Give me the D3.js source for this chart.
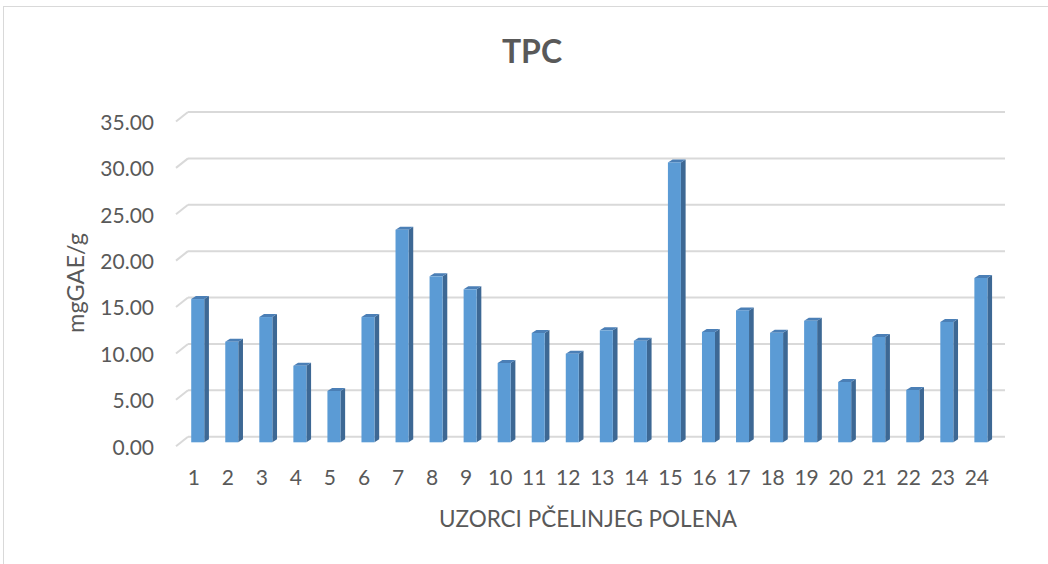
<!DOCTYPE html>
<html>
<head>
<meta charset="utf-8">
<script src="https://cdn.jsdelivr.net/npm/d3@7"></script>
<style>
  html, body { margin: 0; padding: 0; background: #fff; }
  svg { display: block; }
</style>
</head>
<body>
<svg id="chart" width="1048" height="564"></svg>
<script>
const categories = ["1","2","3","4","5","6","7","8","9","10","11","12","13","14","15","16","17","18","19","20","21","22","23","24"];
const values = [15.44, 10.84, 13.50, 8.25, 5.53, 13.50, 22.91, 17.89, 16.49, 8.55, 11.78, 9.55, 12.07, 10.95, 30.17, 11.89, 14.22, 11.81, 13.10, 6.50, 11.35, 5.64, 12.97, 17.71];
const yTicks = [0, 5, 10, 15, 20, 25, 30, 35];
const title = "TPC";
const yTitle = "mgGAE/g";
const xTitle = "UZORCI PČELINJEG POLENA";

const svg = d3.select("#chart");
const font = "Lato, 'Open Sans', sans-serif";

// chart border
svg.append("rect").attr("x", 3.5).attr("y", 6.5).attr("width", 1100).attr("height", 700)
  .attr("fill", "#fff").attr("stroke", "#d9d9d9").attr("stroke-width", 1);

// scales: back wall and front plane
const yBack = d3.scaleLinear().domain([0, 35]).range([436.7, 112]);
const frontShift = 9, barShift = 5.6, diagDx = 12;
const backLeft = 188, backRight = 1005;

const x = d3.scaleBand().domain(categories).range([180.7, 997.9]).paddingInner(0.618).paddingOuter(0.309);

// gridlines on back wall + diagonal on side wall
const grid = svg.append("g");
yTicks.forEach(t => {
  const y = yBack(t);
  grid.append("line").attr("x1", backLeft).attr("x2", backRight).attr("y1", y).attr("y2", y)
    .attr("stroke", "#d9d9d9").attr("stroke-width", 2);
  grid.append("line").attr("x1", backLeft - diagDx).attr("y1", y + frontShift + 0.5)
    .attr("x2", backLeft).attr("y2", y)
    .attr("stroke", "#d9d9d9").attr("stroke-width", 2);
});

// y tick labels
svg.append("g").selectAll("text").data(yTicks).join("text")
  .attr("x", 154).attr("y", d => yBack(d) + frontShift + 1.5)
  .attr("dy", "0.35em").attr("text-anchor", "end")
  .attr("font-family", font).attr("font-size", 21).attr("fill", "#595959")
  .text(d => d3.format(".2f")(d));

// bars (3D look)
const dx = 4.7, dy = 3;
const bw = x.bandwidth();
const bars = svg.append("g");
categories.forEach((c, i) => {
  const x0 = x(c);
  const yTop = yBack(values[i]) + barShift;
  const yBot = yBack(0) + barShift;
  // side
  bars.append("path")
    .attr("d", `M${x0 + bw},${yTop} L${x0 + bw + dx},${yTop - dy} L${x0 + bw + dx},${yBot - dy} L${x0 + bw},${yBot} Z`)
    .attr("fill", "#3d6894");
  // top
  bars.append("path")
    .attr("d", `M${x0},${yTop} L${x0 + dx},${yTop - dy} L${x0 + bw + dx},${yTop - dy} L${x0 + bw},${yTop} Z`)
    .attr("fill", "#4b7fb6");
  // front
  bars.append("rect").attr("x", x0).attr("y", yTop).attr("width", bw).attr("height", yBot - yTop)
    .attr("fill", "#5b9bd5");
});

// x tick labels
svg.append("g").selectAll("text").data(categories).join("text")
  .attr("x", d => x(d) + bw / 2 - 4).attr("y", 478)
  .attr("dy", "0.35em").attr("text-anchor", "middle")
  .attr("font-family", font).attr("font-size", 21).attr("fill", "#595959")
  .text(d => d);

// titles
svg.append("text").attr("x", 532).attr("y", 52).attr("dy", "0.35em").attr("text-anchor", "middle")
  .attr("font-family", font).attr("font-size", 32).attr("font-weight", "bold").attr("fill", "#595959")
  .text(title);

svg.append("text").attr("transform", "translate(76,283) rotate(-90)").attr("dy", "0.35em")
  .attr("text-anchor", "middle").attr("font-family", font).attr("font-size", 23.5).attr("fill", "#595959")
  .text(yTitle);

svg.append("text").attr("x", 588).attr("y", 519).attr("dy", "0.35em").attr("text-anchor", "middle")
  .attr("font-family", font).attr("font-size", 22.5).attr("fill", "#595959")
  .text(xTitle);
</script>
</body>
</html>
